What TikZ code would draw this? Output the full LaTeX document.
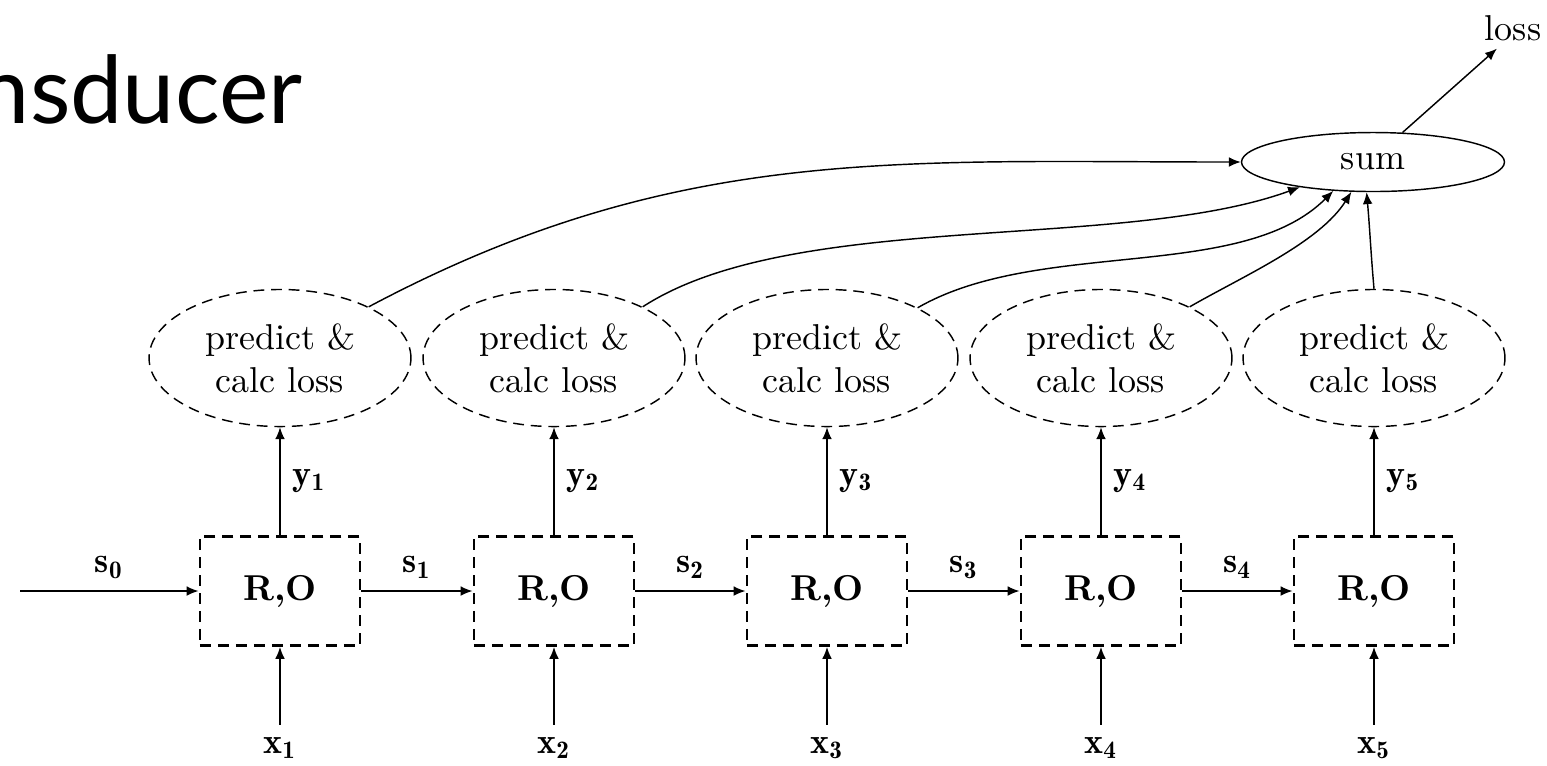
\documentclass[tikz,border=0pt]{standalone}
\usepackage{fontspec}
\newfontfamily\titlefont{Lato}
\usetikzlibrary{shapes.geometric,arrows.meta}
\begin{document}
\begin{tikzpicture}[x=0.278pt,y=-0.278pt,
  arr/.style={-{Latex[length=3.3pt,width=2.7pt]}},
  robox/.style={draw,thick,dash pattern=on 3.1pt off 1.9pt,minimum width=44.5pt,minimum height=30.3pt,inner sep=0pt,font=\bfseries},
  predell/.style={draw,dash pattern=on 3pt off 1.9pt,ellipse,minimum width=72.8pt,minimum height=38.1pt,inner sep=0pt,align=center},
  sumell/.style={draw,ellipse,minimum width=73.1pt,minimum height=16.4pt,inner sep=0pt},
  lab/.style={inner sep=3.33pt},
  titlestyle/.style={font=\titlefont\fontsize{26}{30}\selectfont,inner sep=0pt}]
\useasboundingbox (0,0) rectangle (1547,765);
\node[titlestyle,anchor=base east] (title) at (303,123) {nsducer};
\node[sumell] (sum) at (1373,162) {sum};
\node[inner sep=2pt] (loss) at (1513,28) {loss};
\coordinate (start) at (20,591);
\foreach \i/\x in {1/280,2/554,3/827,4/1101,5/1374}{
  \node[robox] (b\i) at (\x,591) {R,O};
  \node[predell] (e\i) at (\x,358) {predict \&\\calc loss};
  \node[lab] (x\i) at (\x,748) {$\mathbf{x_{\i}}$};
  \draw[arr] (x\i) -- (b\i);
  \draw[arr] (b\i) -- node[right,lab] {$\mathbf{y_{\i}}$} (e\i);
}
\draw[arr] (start) -- node[above,lab] {$\mathbf{s_0}$} (b1);
\foreach \a/\b/\n in {1/2/1,2/3/2,3/4/3,4/5/4}{
  \draw[arr] (b\a) -- node[above,lab] {$\mathbf{s_{\n}}$} (b\b);
}
\draw[arr] (e1.30) to[out=28,in=180] (sum.west);
\draw[arr] (e2.30) .. controls +(33:50pt) and +(200:52.8pt) .. (sum.199);
\draw[arr] (e3.29) .. controls +(30:38.9pt) and +(225:36.1pt) .. (sum.216);
\draw[arr] (e4.30) .. controls +(30:16.7pt) and +(238:16.7pt) .. (sum.234);
\draw[arr] (e5.north) to[out=95,in=-85] (sum.258);
\draw[arr] (sum.45) -- (loss.-128);
\end{tikzpicture}
\end{document}
